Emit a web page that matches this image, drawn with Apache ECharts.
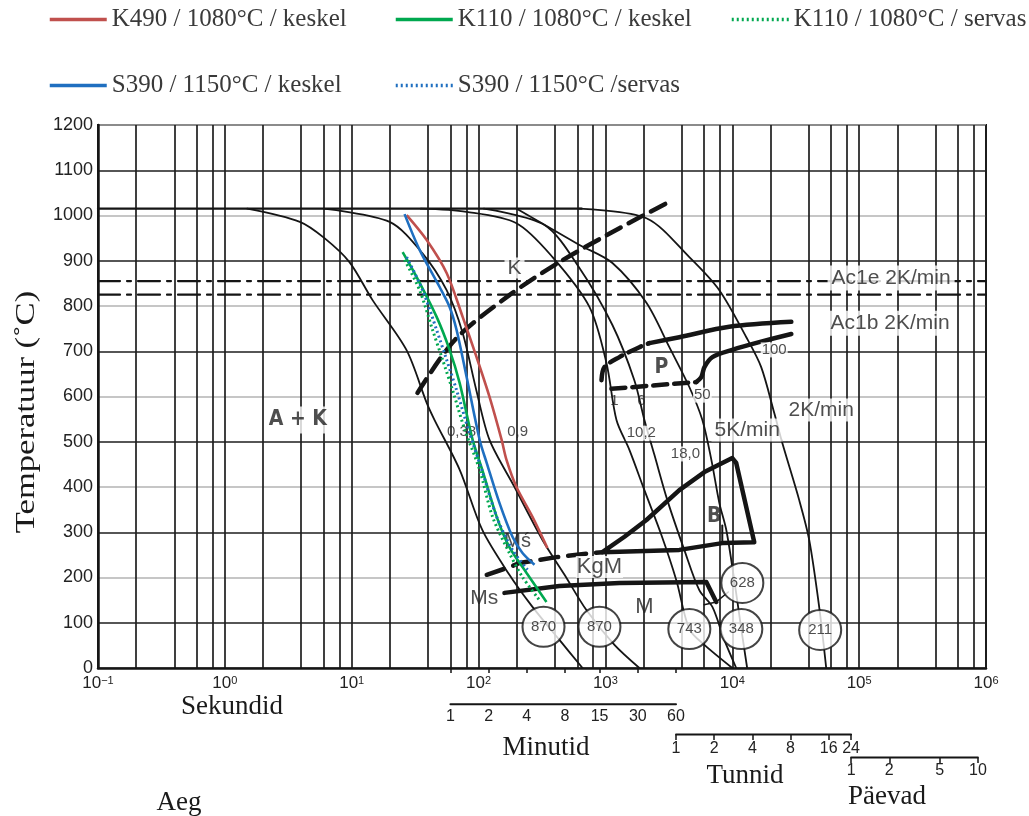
<!DOCTYPE html>
<html><head><meta charset="utf-8">
<script src="https://cdn.jsdelivr.net/npm/echarts@6/dist/echarts.min.js"></script>
<style>html,body{margin:0;padding:0;background:#fff}#c{width:1029px;height:816px}</style>
</head><body><div id="c"></div>
<script>
// ---------- DATA (time in seconds, temperature in °C) ----------
const tempTicks = [0,100,200,300,400,500,600,700,800,900,1000,1100,1200];
const timeGrid = [0.1,0.2,0.4,0.6,0.8,1,2,4,6,8,10,20,40,60,80,100,200,400,600,800,1000,2000,4000,6000,8000,10000,20000,40000,60000,80000,100000,200000,400000,600000,800000,1000000];
const decades = [0.1,1,10,100,1000,10000,100000,1000000];
const minuteLabels = [1,2,4,8,15,30,60];
const hourLabels = [1,2,4,8,16,24];
const dayLabels = [1,2,5,10];

const austenitizeLine = [[0.1,1015],[650,1015]];
const ac1eLine = [[0.1,855],[1000000,855]];
const ac1bLine = [[0.1,825],[1000000,825]];

const curveA = [[1.5,1015],[3.9,986],[6.1,950],[9.6,897],[14.6,813],[27,703],[39,586],[45,548],[71,438],[107,305],[175,206],[266,135],[434,62],[660,0]];
const curveB = [[6,1015],[19.9,986],[36,917],[56,835],[75,740],[96,614],[122,504],[192,400],[319,283],[476,206],[708,128],[1178,51],[1852,0]];
const curveC = [[35,1015],[80.5,1008],[199,983],[383,908],[748,798],[1019,674],[1222,548],[1545,482],[2029,393],[2762,294],[3622,194],[4585,86],[6030,51],[10000,0]];
const curveD = [[110,1015],[331,979],[624,884],[1135,758],[1690,636],[2029,548],[2432,471],[3076,371],[4185,261],[5495,172],[6970,135],[8650,62],[10740,0]];
const curveE = [[200,1015],[624,935],[1135,895],[2105,807],[3190,709],[4585,621],[5810,548],[6840,460],[7900,365],[8970,305],[10370,194],[11780,86],[13100,0]];
const curveF = [[624,1015],[2105,994],[4585,908],[7900,835],[12900,731],[16900,665],[21400,564],[24800,497],[33700,371],[40400,283],[48400,135],[55000,0]];

const carbideK = [[33,608],[65,725],[175,824],[434,897],[1289,972],[3076,1028]];
const pearliteTopDashed = [[931,636],[982,665],[1289,687],[1852,709],[2220,718]];
const pearliteTopSolid = [[2220,718],[3825,731],[9470,754],[29200,765]];
const pearliteLowDashed = [[1114,617],[5210,632]];
const pearliteLowSolid = [[5210,632],[5700,643],[6030,665],[6970,687],[10000,703],[16300,720],[29200,738]];
const bainiteArea = [[946,256],[1413,290],[2105,327],[3825,393],[6030,433],[10000,464],[10740,453],[14900,278],[8340,276],[3825,261],[946,256]];
const bainiteTick = [[8340,276],[8340,315]];
const kgmDashed = [[116,206],[175,223],[210,232],[411,245],[502,248],[946,256]];
const msLine = [[160,166],[434,181],[1289,188],[6240,190],[7480,146]];
const link628 = [[6000,140],[7480,146],[9300,168]];

const k490Keskel = [[27.1,1001],[39,946],[56,873],[74.9,776],[96.4,687],[122,599],[152,504],[166,460],[199,400],[266,334],[349,265]];
const k110Keskel = [[25.2,919],[32.5,864],[46.7,776],[59.1,703],[70.9,630],[89.8,504],[107,438],[139,334],[175,267],[239,210],[343,146]];
const k110Servas = [[26.1,902],[34.3,835],[43.4,747],[52.1,681],[62.4,614],[78,526],[102,438],[129,334],[175,254],[222,201],[302,150]];
const s390Keskel = [[26.1,1003],[34.3,924],[49.3,842],[59.1,798],[67.1,747],[80.5,643],[102,504],[116,453],[146,365],[185,290],[222,254],[276,228]];
const s390Servas = [[27.1,908],[36.2,835],[46.7,747],[56,681],[67.1,614],[83.4,526],[106,438],[139,334],[185,261],[243,217]];

const hardness = [[325,91,'870'],[897,91,'870'],[4585,86,'743'],[11780,86,'348'],[49300,84,'211'],[12000,188,'628']];

const labelsUnder = [['0,38',73.5,522],['0,9',203,522],['Mś',203,280],['1',1178,590],['6',1919,590]];
const labelsBoxed = [['A + K',3.76,548],['K',192,884],['P',2760,663],['B',7210,334],['M',2030,135],['Ms',111,155],['KgM',897,223],
  ['10,2',1920,519],['18,0',4270,473],['50',5810,603],['100',21400,703],['2K/min',50200,570],['5K/min',13100,526],
  ['Ac1e 2K/min',178600,862],['Ac1b 2K/min',175400,762]];

const seriesNames = ['K490 / 1080°C / keskel','K110 / 1080°C / keskel','K110 / 1080°C / servas','S390 / 1150°C / keskel','S390 / 1150°C /servas'];

// ---------- STYLE ----------
const ink = '#151515';
const serif = "'Liberation Serif','Times New Roman',serif";
const sans = "'Liberation Sans',Arial,Helvetica,sans-serif";
const cond = "'DejaVu Sans Condensed','Liberation Sans',sans-serif";

function blk(data, width, type, smooth, z) {
  return {type:'line', data:data, symbol:'none', smooth: smooth===undefined?0.3:smooth, silent:true, animation:false,
    lineStyle:{color:ink, width:width||1.8, type:type||'solid', cap:'round', join:'round'}, z:z||2};
}
function colored(name, data, color, dotted) {
  return {type:'line', name:name, data:data, symbol:'none', smooth:0.3, silent:true, animation:false,
    lineStyle:{color:color, width: dotted?3:2.6, type: dotted?[2,3]:'solid'}, itemStyle:{color:color}, z:6};
}
const plain = {fontFamily:sans, fontSize:15};
const labelStyle = {
  'A + K':{fontFamily:cond, fontWeight:'bold', fontSize:21, backgroundColor:'#fff', padding:[3,3]},
  'K':{fontFamily:sans, fontSize:21, backgroundColor:'#fff', padding:[0,3]},
  'P':{fontFamily:cond, fontWeight:'bold', fontSize:21},
  'B':{fontFamily:cond, fontWeight:'bold', fontSize:21},
  'M':{fontFamily:sans, fontSize:22},
  'Ms':{fontFamily:sans, fontSize:21},
  'Mś':{fontFamily:sans, fontSize:20},
  'KgM':{fontFamily:sans, fontSize:22, backgroundColor:'#fff', padding:[0,1]},
  '0,38':plain, '0,9':plain, '1':plain, '6':plain,
  'Ac1e 2K/min':{fontFamily:sans, fontSize:21, backgroundColor:'#fff', padding:[2,4]},
  'Ac1b 2K/min':{fontFamily:sans, fontSize:21, backgroundColor:'#fff', padding:[2,4]},
  '2K/min':{fontFamily:sans, fontSize:21, backgroundColor:'#fff', padding:[1,3]},
  '5K/min':{fontFamily:sans, fontSize:21, backgroundColor:'#fff', padding:[1,3]}
};
function labelItem(l) {
  const st = labelStyle[l[0]] || {fontFamily:sans, fontSize:15, backgroundColor:'#fff', padding:[0,1]};
  return {value:[l[1],l[2]], name:l[0], label:Object.assign({show:true, position:'inside', formatter:'{b}', color:'#222'}, st)};
}
function labelsSeries(list, z) {
  return {type:'scatter', data:list.map(labelItem), symbolSize:1, itemStyle:{color:'rgba(0,0,0,0)'}, silent:true, animation:false, z:z,
    label:{show:true, position:'inside', formatter:'{b}', fontFamily:sans, fontSize:15, color:'#222'}};
}
function decadeLabel(v){
  const e = Math.round(Math.log10(v));
  return '{b|10}{s|' + (e<0?'−'+(-e):e) + '}';
}
const legendBase = {orient:'horizontal', itemWidth:57, itemHeight:14, itemGap:0, padding:0,
  itemStyle:{opacity:0}, lineStyle:{width:3.5},
  textStyle:{fontFamily:serif, fontSize:25, color:'#3a3a3a'}};

const bracketT = {min:-80, hour:-147, day:-198};

const option = {
  animation:false,
  backgroundColor:'#fff',
  grid:{left:98, right:43, top:125, bottom:148, show:true, borderColor:ink, borderWidth:2, containLabel:false},
  legend:[
    Object.assign({}, legendBase, {data:[seriesNames[0]], left:48, top:7}),
    Object.assign({}, legendBase, {data:[seriesNames[1]], left:394, top:7}),
    Object.assign({}, legendBase, {data:[seriesNames[2]], left:730, top:7}),
    Object.assign({}, legendBase, {data:[seriesNames[3]], left:48, top:73}),
    Object.assign({}, legendBase, {data:[seriesNames[4]], left:394, top:73})
  ],
  xAxis:[
    {type:'log', logBase:10, min:0.1, max:1000000, position:'bottom',
      axisLine:{show:true, onZero:false, lineStyle:{color:ink, width:2.5}},
      axisTick:{show:false, customValues:timeGrid},
      axisLabel:{customValues:decades, formatter:decadeLabel, margin:7,
        rich:{b:{fontFamily:sans, fontSize:17, color:'#222'}, s:{fontFamily:sans, fontSize:11, color:'#222', verticalAlign:'top', padding:[0,0,6,0]}}},
      splitLine:{show:true, lineStyle:{color:'#1e1e1e', width:1.7}}},
    {type:'log', logBase:10, min:0.1, max:1000000, position:'bottom', offset:36,
      axisLine:{show:false}, splitLine:{show:false},
      axisTick:{show:true, customValues:minuteLabels.map(function(m){return m*60;}), length:5, lineStyle:{color:ink, width:1.5}},
      axisLabel:{customValues:minuteLabels.map(function(m){return m*60;}), formatter:function(v){return String(Math.round(v/60));}, margin:5, fontFamily:sans, fontSize:16, color:'#222'}},
    {type:'log', logBase:10, min:0.1, max:1000000, position:'bottom', offset:67,
      axisLine:{show:false}, splitLine:{show:false},
      axisTick:{show:true, customValues:hourLabels.map(function(h){return h*3600;}), length:5, lineStyle:{color:ink, width:1.5}},
      axisLabel:{customValues:hourLabels.map(function(h){return h*3600;}), formatter:function(v){return String(Math.round(v/3600));}, margin:6, fontFamily:sans, fontSize:16, color:'#222'}},
    {type:'log', logBase:10, min:0.1, max:1000000, position:'bottom', offset:90,
      axisLine:{show:false}, splitLine:{show:false},
      axisTick:{show:true, customValues:dayLabels.map(function(d){return d*86400;}), length:5, lineStyle:{color:ink, width:1.5}},
      axisLabel:{customValues:dayLabels.map(function(d){return d*86400;}), formatter:function(v){return String(Math.round(v/86400));}, margin:5, fontFamily:sans, fontSize:16, color:'#222'}}
  ],
  yAxis:{type:'value', min:0, max:1200, interval:100,
    axisLine:{show:true, lineStyle:{color:ink, width:2.5}}, axisTick:{show:false},
    axisLabel:{fontFamily:sans, fontSize:18, color:'#222', margin:5, formatter:function(v){return String(v);}},
    splitLine:{show:true, lineStyle:{color:['#b3b3b3','#1e1e1e'], width:1.6}}},
  graphic:[
    {type:'text', x:27, y:412, rotation:Math.PI/2, scaleX:1.28, style:{text:'Temperatuur (˚C)', font:'27px '+serif, fill:'#1a1a1a', textAlign:'center', textVerticalAlign:'middle'}},
    {type:'text', x:232, y:707, style:{text:'Sekundid', font:'27px '+serif, fill:'#1a1a1a', textAlign:'center', textVerticalAlign:'middle'}},
    {type:'text', x:546, y:748, style:{text:'Minutid', font:'27px '+serif, fill:'#1a1a1a', textAlign:'center', textVerticalAlign:'middle'}},
    {type:'text', x:745, y:776, style:{text:'Tunnid', font:'27px '+serif, fill:'#1a1a1a', textAlign:'center', textVerticalAlign:'middle'}},
    {type:'text', x:887, y:797, style:{text:'Päevad', font:'27px '+serif, fill:'#1a1a1a', textAlign:'center', textVerticalAlign:'middle'}},
    {type:'text', x:179, y:803, style:{text:'Aeg', font:'27px '+serif, fill:'#1a1a1a', textAlign:'center', textVerticalAlign:'middle'}}
  ],
  series:[
    blk(austenitizeLine, 2.2, 'solid', false),
    blk(ac1eLine, 2.2, [22,7,4,7], false),
    blk(ac1bLine, 2.2, [22,7,4,7], false),
    blk(curveA), blk(curveB), blk(curveC), blk(curveD), blk(curveE), blk(curveF),
    blk(link628, 1.5, 'solid', false),
    blk(carbideK, 4.5, [16,9], 0.3, 3),
    blk(pearliteTopDashed, 4.5, [14,7], 0.3, 3),
    blk(pearliteTopSolid, 4.5, 'solid', 0.3, 3),
    blk(pearliteLowDashed, 4.5, [14,7], false, 3),
    blk(pearliteLowSolid, 4.5, 'solid', 0.3, 3),
    blk(bainiteArea, 4.5, 'solid', false, 3),
    blk(bainiteTick, 2, 'solid', false, 3),
    blk(kgmDashed, 4.5, [18,10], false, 3),
    blk(msLine, 4.5, 'solid', false, 3),
    labelsSeries(labelsUnder, 4),
    colored(seriesNames[0], k490Keskel, '#c0504d', false),
    colored(seriesNames[1], k110Keskel, '#00a84f', false),
    colored(seriesNames[2], k110Servas, '#00a84f', true),
    colored(seriesNames[3], s390Keskel, '#1f6fc0', false),
    colored(seriesNames[4], s390Servas, '#1f6fc0', true),
    labelsSeries(labelsBoxed, 7),
    {type:'scatter', data:hardness.map(function(h){return {value:[h[0],h[1]], name:h[2]};}), symbol:'circle', symbolSize:[42,40],
      itemStyle:{color:'#fff', borderColor:ink, borderWidth:2}, silent:true, animation:false, z:8,
      label:{show:true, position:'inside', formatter:'{b}', fontFamily:sans, fontSize:15, color:'#222'}},
    Object.assign(blk([[60,bracketT.min],[3600,bracketT.min]], 2, 'solid', false), {clip:false}),
    Object.assign(blk([[3600,bracketT.hour],[86400,bracketT.hour]], 2, 'solid', false), {clip:false}),
    Object.assign(blk([[86400,bracketT.day],[864000,bracketT.day]], 2, 'solid', false), {clip:false})
  ]
};
const chart = echarts.init(document.getElementById('c'));
chart.setOption(option);
</script>
</body></html>
